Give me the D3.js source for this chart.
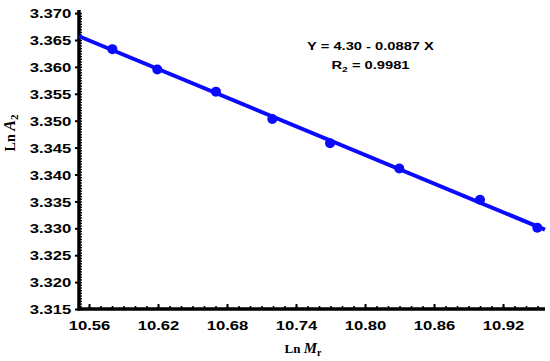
<!DOCTYPE html>
<html>
<head>
<meta charset="utf-8">
<script src="https://cdn.jsdelivr.net/npm/d3@7"></script>
<style>
  body { margin: 0; background: #fff; }
  svg { display: block; }
  .tick text { font-family: "Liberation Sans", Arial, sans-serif; font-weight: bold; font-size: 13px; fill: #000; }
</style>
</head>
<body>
<script>
// values
var lnMr = [10.5803, 10.6194, 10.6704, 10.7194, 10.7696, 10.8298, 10.9000, 10.9498];
var lnA2 = [3.3633, 3.3595, 3.3554, 3.3503, 3.3458, 3.3411, 3.3353, 3.3301];
var xTicks = [10.56, 10.62, 10.68, 10.74, 10.80, 10.86, 10.92];
var yTicks = [3.315, 3.320, 3.325, 3.330, 3.335, 3.340, 3.345, 3.350, 3.355, 3.360, 3.365, 3.370];
var fitIntercept = 4.3016, fitSlope = -0.0887;
var eqnText = 'Y = 4.30 - 0.0887 X';

var W = 550, H = 361;
var stretch = 'scale(1.28,1)';

var svg = d3.select('body').append('svg').attr('width', W).attr('height', H);
svg.append('rect').attr('width', W).attr('height', H).attr('fill', '#fff');

var x = d3.scaleLinear().domain([10.5513, 10.9565]).range([79, 545]);
var y = d3.scaleLinear().domain([3.315, 3.3705]).range([309, 10.4]);

// minor ticks (inward)
var xMinor = d3.range(10.56, 10.955, 0.01);
var yMinor = d3.range(3.315, 3.3703, 0.0005);
svg.append('g').attr('transform', 'translate(0,309)')
  .call(d3.axisBottom(x).tickValues(xMinor).tickSize(-3).tickFormat(''))
  .call(function(g){ g.select('.domain').remove(); g.selectAll('line').attr('stroke-width', 1.6); });
svg.append('g').attr('transform', 'translate(79,0)')
  .call(d3.axisLeft(y).tickValues(yMinor).tickSize(-3).tickFormat(''))
  .call(function(g){ g.select('.domain').remove(); g.selectAll('line').attr('stroke-width', 1.3); });

// major ticks + labels
var gx = svg.append('g').attr('transform', 'translate(0,309)')
  .call(d3.axisBottom(x).tickValues(xTicks).tickSizeInner(-5).tickSizeOuter(0).tickPadding(12).tickFormat(d3.format('.2f')));
gx.select('.domain').remove();
gx.selectAll('line').attr('stroke-width', 2);
gx.selectAll('text').attr('transform', stretch);

var gy = svg.append('g').attr('transform', 'translate(79,0)')
  .call(d3.axisLeft(y).tickValues(yTicks).tickSizeInner(4).tickSizeOuter(0).tickPadding(2).tickFormat(d3.format('.3f')));
gy.select('.domain').remove();
gy.selectAll('line').attr('stroke-width', 2);
gy.selectAll('text').attr('transform', stretch).attr('dy', '0.36em');

// spines
svg.append('path')
  .attr('d', 'M79,10V309H545')
  .attr('fill', 'none').attr('stroke', '#000').attr('stroke-width', 3.5);

// fitted line
var xd = x.domain();
svg.append('line')
  .attr('x1', x(xd[0])).attr('y1', y(fitIntercept + fitSlope * xd[0]))
  .attr('x2', x(xd[1])).attr('y2', y(fitIntercept + fitSlope * xd[1]))
  .attr('stroke', '#0a0aff').attr('stroke-width', 4);

// points
svg.selectAll('.pt').data(lnMr).enter().append('circle')
  .attr('class', 'pt')
  .attr('cx', function(d){ return x(d); })
  .attr('cy', function(d, i){ return y(lnA2[i]); })
  .attr('r', 5)
  .attr('fill', '#0a0aff');

// equation text
var eq = svg.append('g').attr('transform', 'translate(370.5,0) ' + stretch)
  .style('font-family', '"Liberation Sans", Arial, sans-serif').style('font-weight', 'bold').style('font-size', '11.5px');
eq.append('text').attr('y', 50).attr('text-anchor', 'middle').text(eqnText);
var r2 = eq.append('text').attr('y', 69.5).attr('text-anchor', 'middle');
r2.append('tspan').text('R');
r2.append('tspan').attr('dy', 3).style('font-size', '8px').text('2');
r2.append('tspan').attr('dy', -3).text(' = 0.9981');

// axis titles
var serif = '"Liberation Serif", "Times New Roman", serif';
var xl = svg.append('text').attr('x', 303).attr('y', 353).attr('text-anchor', 'middle')
  .style('font-family', serif).style('font-weight', 'bold').style('font-size', '13px');
xl.append('tspan').text('Ln ');
xl.append('tspan').style('font-style', 'italic').style('font-size', '15px').text('M');
xl.append('tspan').attr('dy', 3).style('font-size', '10px').text('r');

var yl = svg.append('text').attr('transform', 'translate(15,133) rotate(-90)').attr('text-anchor', 'middle')
  .style('font-family', serif).style('font-weight', 'bold').style('font-size', '14px');
yl.append('tspan').text('Ln ');
yl.append('tspan').style('font-style', 'italic').style('font-size', '16px').text('A');
yl.append('tspan').attr('dy', 3).style('font-size', '11px').text('2');
</script>
</body>
</html>
